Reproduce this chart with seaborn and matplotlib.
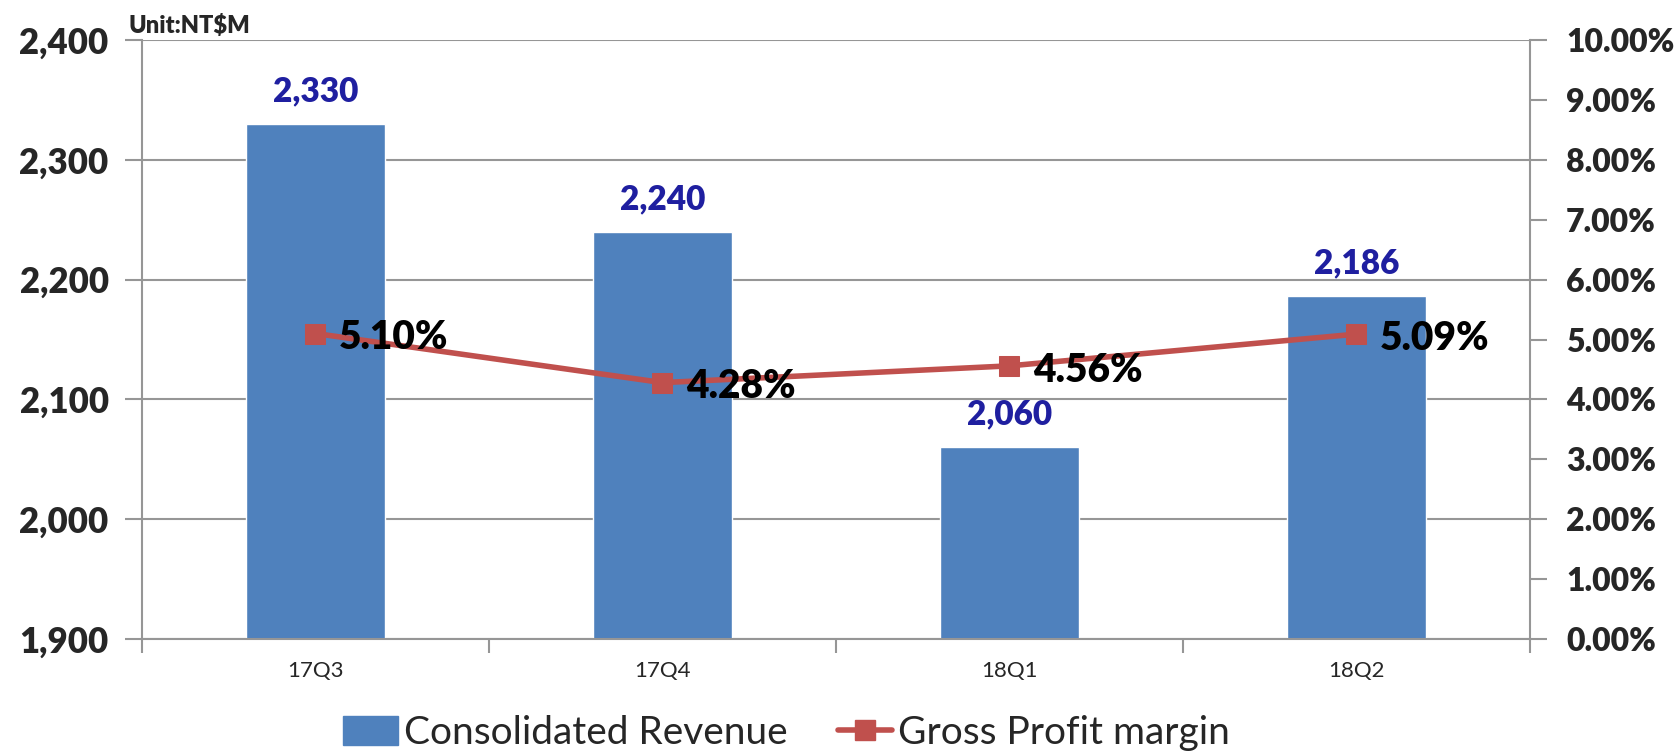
import matplotlib
matplotlib.use("Agg")
import matplotlib.pyplot as plt
import seaborn as sns
import numpy as np
import pandas as pd
from matplotlib.ticker import FuncFormatter, MultipleLocator
from matplotlib.patches import Patch
from matplotlib.lines import Line2D

categories = ["17Q3", "17Q4", "18Q1", "18Q2"]
revenue = [2330, 2240, 2060, 2186]
margin = [5.10, 4.28, 4.56, 5.09]
revenue_labels = ["2,330", "2,240", "2,060", "2,186"]
margin_labels = ["5.10%", "4.28%", "4.56%", "5.09%"]

sns.set_theme(style="white")
plt.rcParams['font.family'] = ['Lato', 'DejaVu Sans']

BAR = "#4F81BD"
LINE = "#C0504D"
GRID = "#969696"
W = "heavy"

fig = plt.figure(figsize=(16.81, 7.54), dpi=100)
ax = fig.add_axes([142/1681, 1 - 639/754, (1530-142)/1681, (639-40)/754])

df = pd.DataFrame({"cat": categories, "rev": revenue})
sns.barplot(data=df, x="cat", y="rev", color=BAR, width=0.4, ax=ax, saturation=1)
ax.set_ylim(1900, 2400)
ax.set_xlim(-0.5, 3.5)
ax.yaxis.set_major_locator(MultipleLocator(100))
ax.yaxis.set_major_formatter(FuncFormatter(lambda v, p: f"{int(v):,}"))
ax.set_xlabel("")
ax.set_ylabel("")
ax.grid(axis="y", color=GRID, linewidth=1.5)
ax.set_axisbelow(True)
for s in ["top", "right"]:
    ax.spines[s].set_visible(False)
for s in ["left", "bottom"]:
    ax.spines[s].set_color(GRID)
    ax.spines[s].set_linewidth(1.5)
ax.tick_params(axis="y", which="major", length=12, width=1.5, color=GRID, direction="out",
               labelsize=25, pad=12, left=True)
for t in ax.get_yticklabels():
    t.set_fontweight(W)
ax.set_xticks([0, 1, 2, 3])
ax.set_xticklabels(categories, fontsize=16)
ax.set_xticks([-0.5, 0.5, 1.5, 2.5, 3.5], minor=True)
ax.tick_params(axis="x", which="major", length=0, pad=16)
ax.tick_params(axis="x", which="minor", length=10, width=1.5, color=GRID, direction="out", bottom=True)

for i, (v, lab) in enumerate(zip(revenue, revenue_labels)):
    ax.annotate(lab, (i, v), xytext=(0, 12), textcoords="offset points", ha="center", va="bottom",
                fontsize=24, fontweight=W, color="#1F1FA0")

ax2 = ax.twinx()
ax2.set_position(ax.get_position())
sns.lineplot(x=np.arange(len(margin)), y=margin, ax=ax2, color=LINE, linewidth=4, marker="s",
             markersize=15, markeredgecolor=LINE, markerfacecolor=LINE)
ax2.set_ylim(0, 10)
ax2.yaxis.set_major_locator(MultipleLocator(1))
ax2.yaxis.set_major_formatter(FuncFormatter(lambda v, p: f"{v:.2f}%"))
for s in ["top", "left", "bottom"]:
    ax2.spines[s].set_visible(False)
ax2.spines["right"].set_color(GRID)
ax2.spines["right"].set_linewidth(1.5)
ax2.tick_params(axis="y", length=12, width=1.5, color=GRID, direction="out", labelsize=23, pad=14, right=True)
for t in ax2.get_yticklabels():
    t.set_fontweight(W)
ax2.grid(False)

for i, (v, lab) in enumerate(zip(margin, margin_labels)):
    ax2.annotate(lab, (i, v), xytext=(17, -3), textcoords="offset points", ha="left", va="center",
                 fontsize=28, fontweight=W, color="black")

fig.text(129/1681, 1 - 25/754, "Unit:NT$M", fontsize=17, fontweight=W, ha="left", va="center")

handles = [Patch(facecolor=BAR, edgecolor=BAR, label="Consolidated Revenue"),
           Line2D([0], [0], color=LINE, linewidth=4, marker="s", markersize=15, label="Gross Profit margin")]
fig.legend(handles=handles, loc="center", bbox_to_anchor=(0.468, 1 - 733/754), ncol=2, frameon=False,
           fontsize=28, handlelength=1.4, handleheight=0.8, columnspacing=1.3, handletextpad=0.15)

fig.savefig("out.png", dpi=100)
